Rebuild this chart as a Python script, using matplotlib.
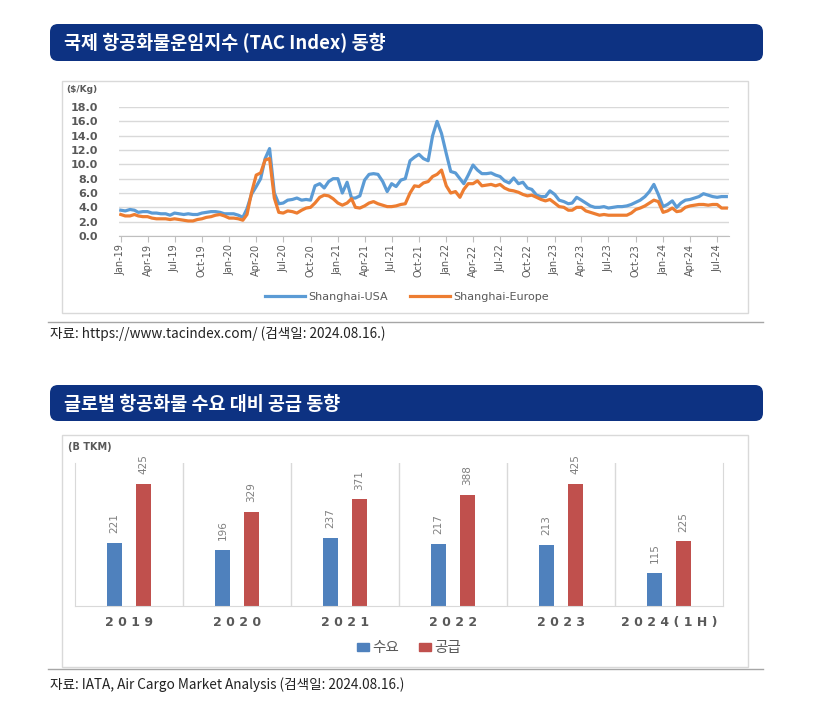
import datetime as dt
import matplotlib
matplotlib.use("Agg")
import matplotlib.pyplot as plt
import matplotlib.dates as mdates
from matplotlib.patches import FancyBboxPatch, Rectangle, Patch
from matplotlib.lines import Line2D

KR = ["Noto Sans CJK KR", "DejaVu Sans"]
NARROW = ["Liberation Sans Narrow", "DejaVu Sans"]

# ---------------- data ----------------
title1 = "국제 항공화물운임지수 (TAC Index) 동향"
title2 = "글로벌 항공화물 수요 대비 공급 동향"
source1 = "자료: https://www.tacindex.com/ (검색일: 2024.08.16.)"
source2 = "자료: IATA, Air Cargo Market Analysis (검색일: 2024.08.16.)"
unit1 = "(\\$/Kg)"
unit2 = "(B TKM)"
series_names = ["Shanghai-USA", "Shanghai-Europe"]

# semi-monthly readings (1st and 16th of each month), Jan 2019 - Aug 2024
shanghai_usa = [
    3.6, 3.5, 3.7, 3.6, 3.3, 3.4, 3.4, 3.2, 3.2, 3.1, 3.1, 2.9,
    3.2, 3.1, 3.0, 3.1, 3.0, 3.0, 3.2, 3.3, 3.4, 3.4, 3.3, 3.1,   # 2019
    3.1, 3.1, 2.9, 2.6, 3.8, 5.8, 6.9, 8.0, 10.8, 12.2, 6.0, 4.5,
    4.6, 5.0, 5.1, 5.3, 5.0, 5.1, 5.0, 7.0, 7.3, 6.7, 7.6, 8.0,   # 2020
    8.0, 6.0, 7.5, 5.3, 5.3, 5.6, 7.8, 8.6, 8.7, 8.6, 7.6, 6.2,
    7.3, 6.9, 7.8, 8.0, 10.5, 11.0, 11.4, 10.8, 10.5, 14.0, 16.0, 14.3,  # 2021
    11.5, 9.0, 8.8, 8.0, 7.3, 8.5, 9.9, 9.2, 8.7, 8.7, 8.8, 8.5,
    8.3, 7.7, 7.4, 8.1, 7.3, 7.5, 6.7, 6.5, 5.7, 5.5, 5.5, 6.3,   # 2022
    5.8, 5.0, 4.8, 4.5, 4.6, 5.4, 5.0, 4.6, 4.2, 4.0, 4.0, 4.1,
    3.9, 4.0, 4.1, 4.1, 4.2, 4.4, 4.7, 5.0, 5.5, 6.2, 7.2, 5.8,   # 2023
    4.1, 4.4, 4.9, 4.0, 4.6, 5.0, 5.1, 5.3, 5.5, 5.9, 5.7, 5.5,
    5.4, 5.5, 5.5,                                                # 2024
]
shanghai_europe = [
    3.0, 2.8, 2.8, 3.0, 2.8, 2.7, 2.7, 2.5, 2.4, 2.4, 2.4, 2.3,
    2.4, 2.3, 2.2, 2.1, 2.1, 2.3, 2.4, 2.6, 2.7, 2.9, 3.0, 2.8,   # 2019
    2.5, 2.5, 2.4, 2.2, 3.0, 6.0, 8.5, 8.8, 10.6, 10.8, 5.3, 3.3,
    3.2, 3.5, 3.4, 3.2, 3.6, 3.9, 4.0, 4.6, 5.4, 5.7, 5.6, 5.2,   # 2020
    4.6, 4.3, 4.6, 5.2, 4.0, 3.9, 4.2, 4.6, 4.8, 4.5, 4.3, 4.1,
    4.1, 4.2, 4.4, 4.5, 6.0, 7.0, 6.9, 7.4, 7.6, 8.3, 8.6, 9.2,   # 2021
    7.0, 6.0, 6.2, 5.4, 6.5, 7.3, 7.3, 7.7, 7.0, 7.1, 7.2, 7.0,
    7.2, 6.7, 6.4, 6.3, 6.1, 5.8, 5.6, 5.7, 5.4, 5.1, 4.9, 5.1,   # 2022
    4.6, 4.1, 4.0, 3.6, 3.6, 4.0, 4.0, 3.5, 3.3, 3.1, 2.9, 3.0,
    2.9, 2.9, 2.9, 2.9, 2.9, 3.2, 3.7, 3.9, 4.2, 4.6, 5.0, 4.8,   # 2023
    3.3, 3.5, 3.9, 3.4, 3.5, 4.0, 4.2, 4.3, 4.4, 4.4, 4.3, 4.4,
    4.4, 3.9, 3.9,                                                # 2024
]

years = ["2019", "2020", "2021", "2022", "2023", "2024(1H)"]
demand = [221, 196, 237, 217, 213, 115]
supply = [425, 329, 371, 388, 425, 225]
bar_names = ["수요", "공급"]

# dates for the semi-monthly readings
dates = []
for i in range(len(shanghai_usa)):
    y, mo = 2019 + (i // 2) // 12, (i // 2) % 12 + 1
    dates.append(dt.date(y, mo, 1 if i % 2 == 0 else 16))

# ---------------- figure ----------------
W, H = 815, 727
fig = plt.figure(figsize=(W / 100, H / 100), dpi=100)
bg = fig.add_axes([0, 0, 1, 1])
bg.set_xlim(0, W)
bg.set_ylim(H, 0)
bg.axis("off")


def ax_at(x0, y0, x1, y1):
    return fig.add_axes([x0 / W, 1 - y1 / H, (x1 - x0) / W, (y1 - y0) / H])


NAVY = "#0d3282"
GRAY_TXT = "#595959"
GRID = "#d9d9d9"

# headers
for (y0, y1, t) in [(24, 61, title1), (385, 421, title2)]:
    bg.add_patch(FancyBboxPatch((50, y0), 713, y1 - y0,
                                boxstyle="round,pad=0,rounding_size=8",
                                fc=NAVY, ec="none"))
    bg.text(64, (y0 + y1) / 2 + 1, t, color="white", fontsize=13.3,
            fontweight="bold", va="center", ha="left", family=KR)

# chart boxes
bg.add_patch(Rectangle((62, 81), 686, 232, fc="white", ec=GRID, lw=1))
bg.add_patch(Rectangle((62, 435), 686, 232, fc="white", ec=GRID, lw=1))

# source lines and texts
for (yl, yt, t) in [(322, 334, source1), (669, 685, source2)]:
    bg.plot([48, 763], [yl, yl], color="#a6a6a6", lw=1)
    bg.text(50, yt, t, fontsize=9.8, color="#222222", va="center",
            ha="left", family=KR)

# unit labels
bg.text(66, 89, unit1, fontsize=6.5, color=GRAY_TXT, fontweight="bold",
        va="center", ha="left")
bg.text(68, 447, unit2, fontsize=7, color=GRAY_TXT, fontweight="bold",
        va="center", ha="left")

# ---------------- line chart ----------------
ax1 = ax_at(119, 107, 729, 236)
ax1.set_facecolor("none")
ax1.plot(dates, shanghai_usa, color="#5b9bd5", lw=2.3, solid_joinstyle="round")
ax1.plot(dates, shanghai_europe, color="#ed7d31", lw=2.3, solid_joinstyle="round")
ax1.set_ylim(0, 18)
ax1.set_yticks(range(0, 19, 2))
ax1.yaxis.set_major_formatter(matplotlib.ticker.FormatStrFormatter("%.1f"))
ax1.set_xlim(dt.date(2018, 12, 26), dt.date(2024, 8, 10))
qticks = [dt.date(y, m, 1) for y in range(2019, 2025) for m in (1, 4, 7, 10)
          if dt.date(y, m, 1) <= dt.date(2024, 7, 1)]
ax1.set_xticks(qticks)
ax1.xaxis.set_major_formatter(mdates.DateFormatter("%b-%y"))
ax1.grid(axis="y", color=GRID, lw=1)
ax1.set_axisbelow(True)
for s in ["top", "right", "left"]:
    ax1.spines[s].set_visible(False)
ax1.spines["bottom"].set_color("#bfbfbf")
ax1.tick_params(axis="y", length=0, pad=15, labelsize=8, labelcolor=GRAY_TXT)
ax1.tick_params(axis="x", length=4, color="#bfbfbf", pad=2,
                labelsize=7, labelcolor=GRAY_TXT, labelrotation=90)
for lab in ax1.get_yticklabels():
    lab.set_fontweight("bold")
for lab in ax1.get_xticklabels():
    lab.set_family(NARROW)

handles1 = [Line2D([], [], color="#5b9bd5", lw=2.3),
            Line2D([], [], color="#ed7d31", lw=2.3)]
leg1 = ax1.legend(handles1, series_names, loc="center", ncol=2, frameon=False,
                  bbox_to_anchor=(407 / W, 1 - 297 / H),
                  bbox_transform=fig.transFigure, fontsize=8,
                  handlelength=3.6, handletextpad=0.3, columnspacing=2.0,
                  labelcolor=GRAY_TXT)

# ---------------- bar chart ----------------
ax2 = ax_at(75, 463, 723, 606)
ax2.set_facecolor("none")
xs = list(range(len(years)))
bw, off = 0.144, 0.134
b1 = ax2.bar([x - off for x in xs], demand, width=bw, color="#4f81bd")
b2 = ax2.bar([x + off for x in xs], supply, width=bw, color="#c0504d")
for bars, vals in [(b1, demand), (b2, supply)]:
    for r, v in zip(bars, vals):
        ax2.annotate(str(v), (r.get_x() + r.get_width() / 2, v),
                     xytext=(0, 7), textcoords="offset points",
                     rotation=90, ha="center", va="bottom",
                     fontsize=7.5, color="#7f7f7f", family=NARROW)
ax2.set_xlim(-0.5, len(years) - 0.5)
ax2.set_ylim(0, 498)
for x in range(1, len(years)):
    ax2.axvline(x - 0.5, color=GRID, lw=1)
for s in ["left", "right", "bottom"]:
    ax2.spines[s].set_color(GRID)
ax2.spines["top"].set_visible(False)
ax2.set_yticks([])
ax2.set_xticks(xs)
ax2.set_xticklabels([" ".join(y) for y in years], fontsize=9,
                    fontweight="bold", color=GRAY_TXT)
ax2.tick_params(axis="x", length=0, pad=7)

handles2 = [Patch(color="#4f81bd"), Patch(color="#c0504d")]
ax2.legend(handles2, bar_names, loc="center", ncol=2, frameon=False,
           bbox_to_anchor=(409 / W, 1 - 648 / H),
           bbox_transform=fig.transFigure,
           prop={"family": KR, "size": 10.5}, labelcolor=GRAY_TXT,
           handlelength=0.8, handleheight=0.45, handletextpad=0.2,
           columnspacing=1.4)

fig.savefig("out.png", dpi=100)
